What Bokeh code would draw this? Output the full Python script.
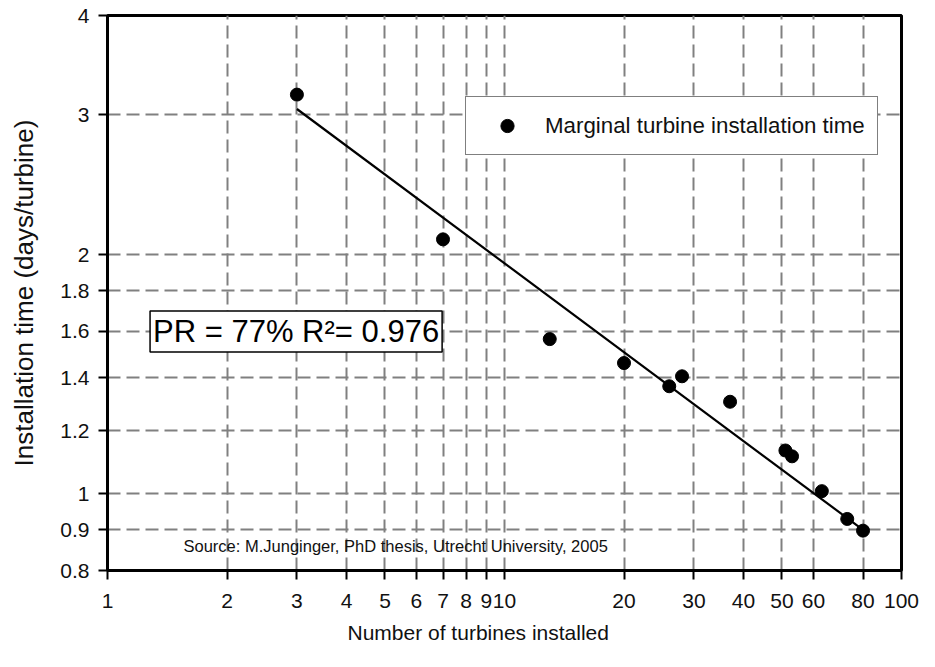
from bokeh.plotting import figure
from bokeh.models import FixedTicker, Legend, LegendItem, Label, Title, Range1d
from bokeh.embed import file_html
from bokeh.resources import INLINE

# ---- data ----
turbines = [3, 7, 13, 20, 26, 28, 37, 51, 53, 63, 73, 80]
install_time = [3.18, 2.09, 1.565, 1.46, 1.365, 1.405, 1.305, 1.133, 1.114, 1.007, 0.929, 0.898]
trend_x = [3, 80]
trend_y = [3.05, 0.90]

x_ticks = [1, 2, 3, 4, 5, 6, 7, 8, 9, 10, 20, 30, 40, 50, 60, 80, 100]
x_tick_labels = ["1", "2", "3", "4", "5", "6", "7", "8", "9", "10", "20", "30", "40", "50", "60", "80", "100"]
y_ticks = [0.8, 0.9, 1, 1.2, 1.4, 1.6, 1.8, 2, 3, 4]
y_tick_labels = ["0.8", "0.9", "1", "1.2", "1.4", "1.6", "1.8", "2", "3", "4"]

series_label = "Marginal turbine installation time"
fit_text = "PR = 77% R\u00b2= 0.976"
source_text = "Source: M.Junginger, PhD thesis, Utrecht University, 2005"
x_title = "Number of turbines installed"
y_title = "Installation time (days/turbine)"

FONT = "Liberation Sans"

p = figure(width=919, height=651, x_axis_type="log", y_axis_type="log",
           x_range=Range1d(1, 100), y_range=Range1d(0.8, 4),
           output_backend="svg", toolbar_location=None,
           min_border_left=107, min_border_right=18, min_border_top=15, min_border_bottom=81)
p.background_fill_color = "white"
p.border_fill_color = "white"
p.outline_line_color = "black"
p.outline_line_width = 3

xt = FixedTicker(ticks=x_ticks)
yt = FixedTicker(ticks=y_ticks)
p.xaxis.ticker = xt
p.yaxis.ticker = yt
p.xgrid.ticker = xt
p.ygrid.ticker = yt
p.xaxis.major_label_overrides = dict(zip(x_ticks, x_tick_labels))
p.yaxis.major_label_overrides = dict(zip(y_ticks, y_tick_labels))

for ax in (p.xaxis, p.yaxis):
    ax.axis_line_width = 3
    ax.axis_line_color = "black"
    ax.major_tick_line_width = 2
    ax.major_tick_line_color = "black"
    ax.major_tick_in = 0
    ax.major_tick_out = 9
    ax.minor_tick_line_color = None
    ax.major_label_text_font = FONT
    ax.major_label_text_font_size = "21px"
    ax.major_label_text_color = "#111111"
p.xaxis.major_label_standoff = 14
p.yaxis.major_label_standoff = 9

p.yaxis.axis_label = y_title
p.yaxis.axis_label_text_font = FONT
p.yaxis.axis_label_text_font_size = "26px"
p.yaxis.axis_label_text_font_style = "normal"
p.yaxis.axis_label_text_color = "#111111"
p.yaxis.axis_label_standoff = 18

p.grid.grid_line_color = "#808080"
p.grid.grid_line_width = 2
p.grid.grid_line_dash = "13 6"

p.line(trend_x, trend_y, line_width=2.2, line_color="black")
pts = p.scatter(turbines, install_time, size=13, fill_color="black", line_color="black")

legend = Legend(items=[LegendItem(label=series_label, renderers=[pts])],
                location=(358, 415))
legend.margin = 0
legend.padding = 12
legend.spacing = 0
legend.glyph_width = 58
legend.glyph_height = 33
legend.label_height = 33
legend.label_standoff = 9
legend.label_text_font = FONT
legend.label_text_font_size = "22.3px"
legend.label_text_color = "#111111"
legend.border_line_color = "black"
legend.border_line_width = 1.5
legend.background_fill_color = "white"
legend.background_fill_alpha = 1.0
p.add_layout(legend)

pr = Label(x=1.28, y=1.6, text=fit_text, text_font=FONT, text_font_size="31px",
           text_align="left", text_baseline="middle", text_color="black",
           border_line_color="black", border_line_width=1.5,
           background_fill_color="white", padding=3)
p.add_layout(pr)

src = Label(x=1.554, y=0.858, text=source_text, text_font=FONT, text_font_size="16.5px",
            text_align="left", text_baseline="middle", text_color="#111111")
p.add_layout(src)

# x-axis title, placed left of the frame centre as in the reference
xt_title = Title(text=x_title, align="left", offset=240, text_font=FONT,
                 text_font_size="21px", text_font_style="normal", text_color="#111111")
if "standoff" in xt_title.properties():
    xt_title.standoff = 16
p.add_layout(xt_title, "below")

open("out.html", "w").write(file_html(p, INLINE))
